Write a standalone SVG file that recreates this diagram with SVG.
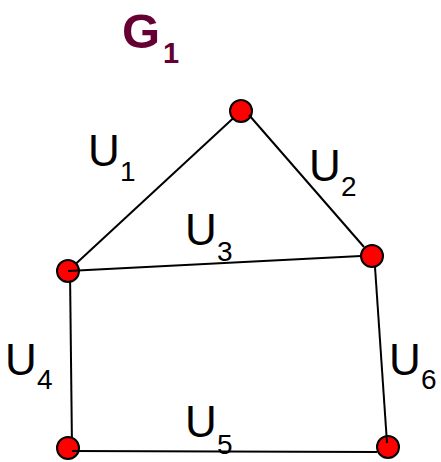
<svg xmlns="http://www.w3.org/2000/svg" width="441" height="462" viewBox="0 0 441 462">
<style>
.e{stroke:#000;stroke-width:2;fill:none}
.n{fill:#ff0000;stroke:#000;stroke-width:2}
.l{font-family:"Liberation Sans",Arial,sans-serif;font-size:44px;fill:#000}
.s{font-family:"Liberation Sans",Arial,sans-serif;font-size:28px;fill:#000}
.t{font-family:"Liberation Sans",Arial,sans-serif;font-weight:bold;fill:#660033}
</style>
<rect width="441" height="462" fill="#fff"/>
<g id="title"><text class="t" x="122" y="48" font-size="49">G</text><text class="t" x="163" y="63" font-size="29">1</text></g>
<g id="edges-under">
<line class="e" x1="241" y1="111" x2="68" y2="271"/>
<line class="e" x1="70" y1="271" x2="72" y2="448"/>
</g>
<g id="nA"><circle class="n" cx="241" cy="111" r="11"/></g>
<g id="nB"><circle class="n" cx="68" cy="271" r="11"/></g>
<g id="nC"><circle class="n" cx="372" cy="256" r="11"/></g>
<g id="nD"><circle class="n" cx="68" cy="448" r="11"/></g>
<g id="nE"><circle class="n" cx="388" cy="447" r="11"/></g>
<g id="connectors">
<line class="e" x1="249" y1="115" x2="364" y2="247"/>
<line class="e" x1="68" y1="271" x2="361" y2="256"/>
<line class="e" x1="72" y1="451" x2="377" y2="452"/>
<line class="e" x1="375" y1="267" x2="387" y2="443"/>
</g>
<g id="labels">
<text class="l" x="88" y="166">U</text><text class="s" x="120" y="181">1</text>
<text class="l" x="309" y="181">U</text><text class="s" x="341" y="196">2</text>
<text class="l" x="185" y="245">U</text><text class="s" x="217" y="261">3</text>
<text class="l" x="5" y="375">U</text><text class="s" x="37" y="389">4</text>
<text class="l" x="389" y="375">U</text><text class="s" x="421" y="389">6</text>
<text class="l" x="185" y="437">U</text><text class="s" x="217" y="454">5</text>
</g>
</svg>
